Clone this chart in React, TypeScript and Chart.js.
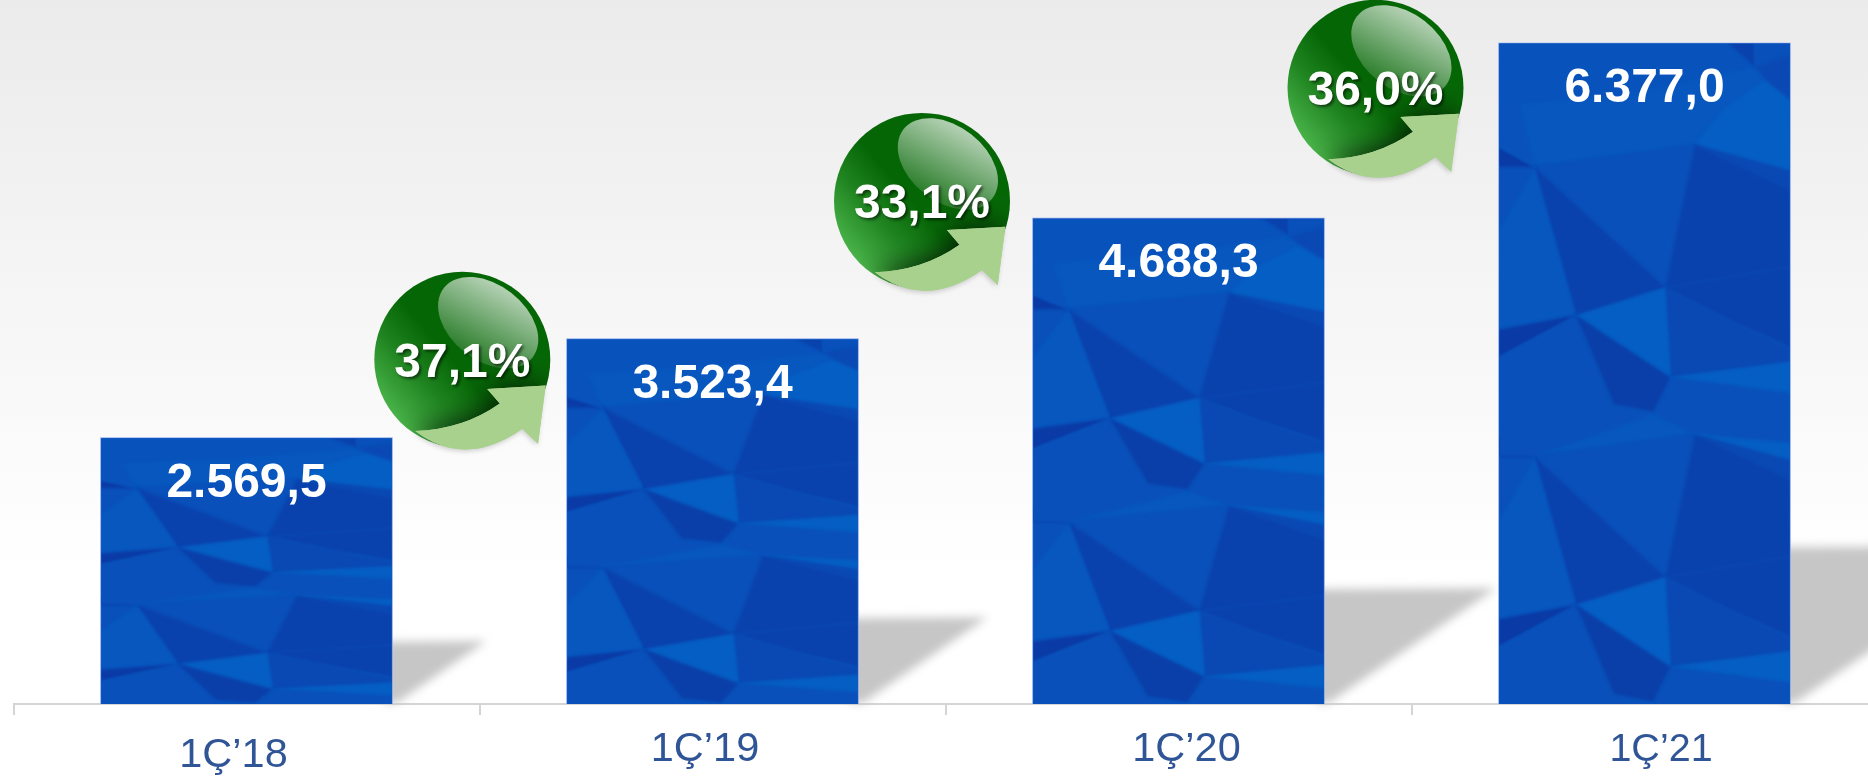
import React, { useEffect, useRef } from "react";
import { Chart, registerables } from "chart.js";

Chart.register(...registerables);

const categories = ["1Ç’18", "1Ç’19", "1Ç’20", "1Ç’21"];
const revenue = [2569.5, 3523.4, 4688.3, 6377.0];
const growth = [37.1, 33.1, 36.0];

// label placement quirks of the original slide
const tickFontSizes = [41.5, 41.5, 41.5, 39.5];
const tickShiftX = [-13, -7.5, 8, 16.5];
const tickShiftY = [6, 0, 0, 1];
// bubble centres relative to top-centre of bars 2..4
const bubbleShiftX = [-250.2, -256.5, -269];
const bubbleShiftY = [21, -17, 45];

const FONT = '"Liberation Sans", Arial, sans-serif';

const fmtTr = (v: number) => {
  const [i, d] = v.toFixed(1).split(".");
  return i.replace(/\B(?=(\d{3})+$)/g, ".") + "," + d;
};

// Low-poly bar texture, in the 292x661 space of the tallest bar, stretched to each bar's height
type Poly = [string, number[]];
const L = "#055ec3", ML = "#0757bf", M = "#0950ba", MD = "#0a49b3", D1 = "#0a42ad", DK = "#0a3aa5";
const repeatedPolys: Poly[] = [
  [ML, [-5, -5, 297, -5, 297, 130, 197, 101, 35, 123, -5, 123]],
  [L, [197, 101, 225, 66, 268, 36, 297, 59, 297, 129]],
  [MD, [197, 101, 297, 128, 297, 148]],
  [M, [35, 123, 197, 101, 167, 244]],
  [D1, [197, 101, 297, 148, 297, 222, 167, 244]],
  [D1, [35, 123, 167, 244, 77, 272]],
  [ML, [35, 123, 77, 272, -5, 287, -5, 193]],
  [M, [-5, 123, 35, 123, -5, 193]],
  [DK, [-5, 101, 35, 123, -5, 123]],
  [DK, [-5, 287, 77, 272, -5, 316]],
  [D1, [167, 244, 297, 222, 297, 306, 230, 276]],
  [MD, [167, 244, 230, 276, 297, 306, 297, 318, 172, 334]],
  [L, [77, 272, 167, 244, 172, 334]],
  [L, [172, 334, 297, 318, 297, 350]],
  [M, [172, 334, 297, 350, 297, 400, 197, 391, 155, 371]],
  [M, [-5, 316, 77, 272, 115, 361, 155, 371, 35, 413, -5, 413]],
  ["#0a3fa9", [77, 272, 172, 334, 155, 369, 115, 361]],
];
const topPolys: Poly[] = [
  ["#0852bc", [-5, -5, 225, -5, 257, 23, 130, 50, 20, 60, -5, 60]],
  [D1, [225, -5, 257, -5, 257, 23]],
  [M, [257, -5, 297, -5, 297, 10, 257, 23]],
  [MD, [257, 23, 297, 9, 297, 59, 268, 36]],
  ["#0952bb", [-5, 60, 20, 60, 35, 123, -5, 101]],
];
const TILE = 290;

const drawTexture = (ctx: CanvasRenderingContext2D, x: number, top: number, w: number, h: number) => {
  const sx = w / 292;
  const sy = h / 661;
  const fill = (c: string, pts: number[], dy: number) => {
    ctx.fillStyle = c;
    ctx.beginPath();
    for (let i = 0; i < pts.length; i += 2) {
      const px = x + pts[i] * sx;
      const py = top + (pts[i + 1] + dy) * sy;
      if (i === 0) ctx.moveTo(px, py);
      else ctx.lineTo(px, py);
    }
    ctx.closePath();
    ctx.fill();
  };
  ctx.save();
  ctx.beginPath();
  ctx.rect(x, top, w, h);
  ctx.clip();
  ctx.filter = "blur(1.5px)";
  [TILE * 2, TILE, 0].forEach((dy) => repeatedPolys.forEach(([c, p]) => fill(c, p, dy)));
  topPolys.forEach(([c, p]) => fill(c, p, 0));
  ctx.restore();
};

const arrowPath = (ctx: CanvasRenderingContext2D, cx: number, cy: number, r: number) => {
  const X = (v: number) => cx + v * r;
  const Y = (v: number) => cy + v * r;
  ctx.beginPath();
  ctx.moveTo(X(0.947), Y(0.294));
  ctx.lineTo(X(0.283), Y(0.332));
  ctx.lineTo(X(0.426), Y(0.498));
  ctx.quadraticCurveTo(X(0.011), Y(0.792), X(-0.536), Y(0.811));
  ctx.quadraticCurveTo(X(0.03), Y(1.242), X(0.683), Y(0.785));
  ctx.lineTo(X(0.86), Y(0.955));
  ctx.closePath();
};

const drawBubble = (ctx: CanvasRenderingContext2D, cx: number, cy: number, text: string) => {
  const r = 88;
  ctx.save();
  // soft shadow of the arrow on the page
  ctx.save();
  ctx.shadowColor = "rgba(0,0,0,0.18)";
  ctx.shadowBlur = 5;
  ctx.shadowOffsetX = -1;
  ctx.shadowOffsetY = 2;
  ctx.fillStyle = "#a9d18e";
  arrowPath(ctx, cx, cy, r);
  ctx.fill();
  ctx.restore();
  // sphere
  const g = ctx.createLinearGradient(cx - 0.8 * r, cy + 0.62 * r, cx - 0.1 * r, cy + 0.02 * r);
  g.addColorStop(0, "#49b349");
  g.addColorStop(0.55, "#1f8420");
  g.addColorStop(1, "#056605");
  ctx.save();
  ctx.beginPath();
  ctx.arc(cx, cy, r, 0, Math.PI * 2);
  ctx.fillStyle = g;
  ctx.fill();
  ctx.clip();
  // arrow's dark shadow on the sphere
  ctx.shadowColor = "rgba(5,30,5,0.9)";
  ctx.shadowBlur = 24;
  ctx.shadowOffsetX = -2;
  ctx.shadowOffsetY = -3;
  ctx.fillStyle = "#a9d18e";
  arrowPath(ctx, cx, cy, r);
  ctx.fill();
  ctx.restore();
  // arrow
  ctx.fillStyle = "#a9d18e";
  arrowPath(ctx, cx, cy, r);
  ctx.fill();
  // highlight
  const hl = ctx.createLinearGradient(cx + 0.55 * r, cy - 0.95 * r, cx + 0.05 * r, cy - 0.02 * r);
  hl.addColorStop(0, "rgba(255,255,255,0.8)");
  hl.addColorStop(1, "rgba(255,255,255,0.12)");
  ctx.beginPath();
  ctx.ellipse(cx + 0.294 * r, cy - 0.42 * r, 0.64 * r, 0.43 * r, (38 * Math.PI) / 180, 0, Math.PI * 2);
  ctx.fillStyle = hl;
  ctx.fill();
  // text
  ctx.shadowColor = "rgba(0,0,0,0.55)";
  ctx.shadowBlur = 3;
  ctx.shadowOffsetX = 2;
  ctx.shadowOffsetY = 2;
  ctx.fillStyle = "#ffffff";
  ctx.font = `bold 48px ${FONT}`;
  ctx.textAlign = "center";
  ctx.textBaseline = "alphabetic";
  ctx.fillText(text, cx, cy + 17);
  ctx.restore();
};

const slidePlugin = {
  id: "slide",
  beforeDraw(chart: any) {
    const { ctx, width, height } = chart;
    const g = ctx.createLinearGradient(0, 0, 0, 570);
    g.addColorStop(0, "#ebebeb");
    g.addColorStop(1, "#ffffff");
    ctx.save();
    ctx.fillStyle = g;
    ctx.fillRect(0, 0, width, height);
    ctx.restore();
    // per-label shift of the native tick labels
    const scale = chart.scales.x;
    if (!scale._shifted) {
      scale.getLabelItems().forEach((it: any, i: number) => {
        it.options.translation[0] += tickShiftX[i];
        it.options.translation[1] += tickShiftY[i];
      });
      scale._shifted = true;
    }
  },
  beforeDatasetsDraw(chart: any) {
    const { ctx } = chart;
    const bars = chart.getDatasetMeta(0).data;
    ctx.save();
    ctx.filter = "blur(5px)";
    ctx.fillStyle = "#c6c6c6";
    bars.forEach((b: any) => {
      const right = b.x + b.width / 2;
      const bh = b.base - b.y;
      const h = 0.24 * bh;
      const w = 1.47 * h;
      ctx.beginPath();
      ctx.moveTo(right - 8, b.base - h + 2);
      ctx.lineTo(right + w, b.base - h + 1);
      ctx.lineTo(right + 4, b.base - 1);
      ctx.lineTo(right - 8, b.base - 1);
      ctx.closePath();
      ctx.fill();
    });
    ctx.restore();
  },
  afterDatasetsDraw(chart: any) {
    const { ctx } = chart;
    const bars = chart.getDatasetMeta(0).data;
    bars.forEach((b: any, i: number) => {
      const inset = 1;
      drawTexture(ctx, b.x - b.width / 2 + inset, b.y + inset, b.width - 2 * inset, b.base - b.y - inset);
      ctx.save();
      ctx.fillStyle = "#ffffff";
      ctx.font = `bold 48px ${FONT}`;
      ctx.textAlign = "center";
      ctx.textBaseline = "alphabetic";
      ctx.fillText(fmtTr(revenue[i]), b.x, b.y + 59);
      ctx.restore();
    });
    growth.forEach((g, i) => {
      const b = bars[i + 1];
      drawBubble(ctx, b.x + bubbleShiftX[i], b.y + bubbleShiftY[i], g.toFixed(1).replace(".", ",") + "%");
    });
  },
};

export default function App() {
  const ref = useRef<HTMLCanvasElement>(null);
  useEffect(() => {
    document.body.style.margin = "0";
    const chart = new Chart(ref.current as HTMLCanvasElement, {
      type: "bar",
      data: {
        labels: categories,
        datasets: [
          {
            data: revenue,
            backgroundColor: "#0a4fb9",
            borderColor: "#7f9fe8",
            borderWidth: 1,
            barThickness: 292,
          },
        ],
      },
      options: {
        animation: false,
        responsive: false,
        layout: { padding: { left: 13.5, right: 12.5, top: 0, bottom: 0 } },
        plugins: { legend: { display: false }, tooltip: { enabled: false }, title: { display: false } },
        scales: {
          x: {
            offset: true,
            afterFit(s: any) {
              s.height = 73;
            },
            border: { display: true, color: "#d4d4d4", width: 2 },
            grid: { drawOnChartArea: false, drawTicks: true, tickLength: 11, color: "#d4d4d4", lineWidth: 2, offset: true },
            ticks: {
              autoSkip: false,
              maxRotation: 0,
              padding: 10,
              color: "#2f5597",
              font: (c: any) => ({ family: FONT, size: tickFontSizes[c.index] ?? 41 }),
            },
          },
          y: { display: false, min: 0, max: 6790 },
        },
      },
      plugins: [slidePlugin],
    } as any);
    return () => chart.destroy();
  }, []);
  return (
    <div style={{ position: "fixed", left: 0, top: 0, width: 1868, height: 777, overflow: "hidden", background: "#fff" }}>
      <canvas ref={ref} width={1890} height={777} style={{ display: "block" }} />
    </div>
  );
}
